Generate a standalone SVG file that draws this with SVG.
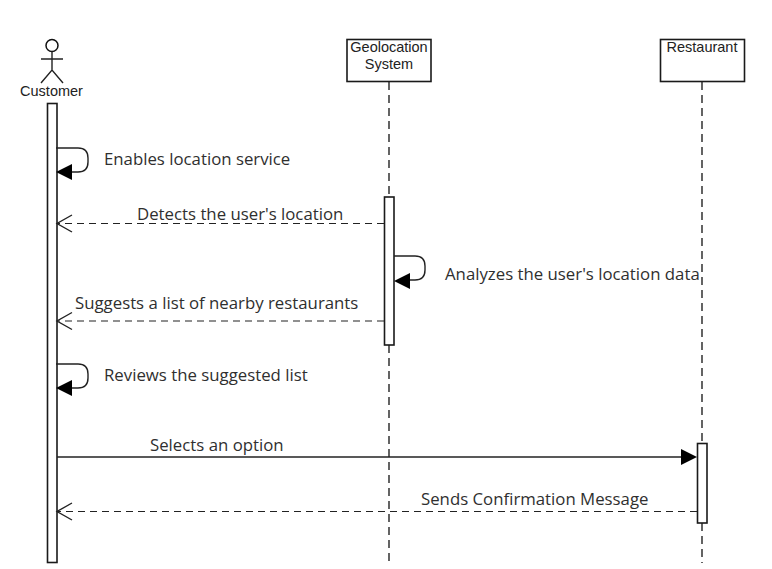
<svg xmlns="http://www.w3.org/2000/svg" width="772" height="569" viewBox="0 0 772 569">
<style>
.box{fill:#fff;stroke:#1a1a1a;stroke-width:1.6}
.life{fill:none;stroke:#111;stroke-width:1.3;stroke-dasharray:8 5}
.sol{fill:none;stroke:#222;stroke-width:1.4}
.ret{fill:none;stroke:#222;stroke-width:1.2;stroke-dasharray:7 5}
.open{fill:none;stroke:#222;stroke-width:1.4}
.head{fill:#000;stroke:none}
.actor{font-family:"Liberation Sans",Arial,sans-serif;font-size:14.500px;fill:#222;text-anchor:middle}
.msg{font-family:"Open Sans",sans-serif;font-size:16.800px;fill:#2f2f2f}
</style>
<rect width="772" height="569" fill="#fff"/>
<g id="lifelines">
<line class="life" x1="389" y1="82" x2="389" y2="197"/>
<line class="life" x1="389" y1="345" x2="389" y2="563"/>
<line class="life" x1="702" y1="82" x2="702" y2="443"/>
<line class="life" x1="702" y1="523" x2="702" y2="563"/>
</g>
<g id="customer">
<circle class="sol" cx="52" cy="45.500" r="6" style="stroke:#111;stroke-width:1.5"/>
<path class="sol" d="M52 51.500V70M41 59H63M41 83L52 70L63 83"/>
<text class="actor" x="51.500" y="96">Customer</text>
<rect class="box" x="47.500" y="103.500" width="9.500" height="459"/>
</g>
<g id="geolocation">
<rect class="box" x="347" y="39.500" width="84" height="42"/>
<text class="actor" x="389" y="52">Geolocation</text>
<text class="actor" x="389" y="69">System</text>
<rect class="box" x="384.500" y="197" width="9.500" height="148"/>
</g>
<g id="restaurant">
<rect class="box" x="660.500" y="39.500" width="84" height="42"/>
<text class="actor" x="702" y="52">Restaurant</text>
<rect class="box" x="697.500" y="443.500" width="9.500" height="79.500"/>
</g>
<g id="connectors">
<path class="sol" d="M56 148H78Q88 148 88 158V162Q88 172 78 172H70"/>
<path class="head" d="M56 172L72 164V180Z"/>
<path class="ret" d="M384 223.500H58"/>
<path class="open" d="M72 215L57 223.500L72 232"/>
<path class="sol" d="M394 256H415Q425 256 425 266V270Q425 280 415 280H408"/>
<path class="head" d="M394 281L410 273V289Z"/>
<path class="ret" d="M384 321H58"/>
<path class="open" d="M72 312.500L57 321L72 329.500"/>
<path class="sol" d="M56 364H78Q88 364 88 374V378Q88 388 78 388H70"/>
<path class="head" d="M56 388L72 380V396Z"/>
<path class="sol" d="M57 457H682"/>
<path class="head" d="M697 457L681 449V465Z"/>
<path class="ret" d="M697 511.500H58"/>
<path class="open" d="M72 503L57 511.500L72 520"/>
</g>
<g id="labels">
<text class="msg" x="104" y="165">Enables location service</text>
<text class="msg" x="137" y="220">Detects the user's location</text>
<text class="msg" x="445" y="279.500">Analyzes the user's location data</text>
<text class="msg" x="75" y="309">Suggests a list of nearby restaurants</text>
<text class="msg" x="104" y="380.500">Reviews the suggested list</text>
<text class="msg" x="150" y="451">Selects an option</text>
<text class="msg" x="421" y="504.500">Sends Confirmation Message</text>
</g>
</svg>
